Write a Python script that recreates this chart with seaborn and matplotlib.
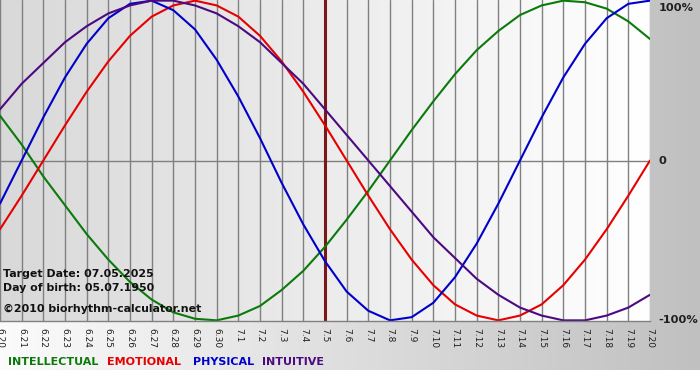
import numpy as np
import pandas as pd
import matplotlib
matplotlib.use("Agg")
import matplotlib.pyplot as plt
import seaborn as sns

# ---------------- data ----------------
days = ["6.20", "6.21", "6.22", "6.23", "6.24", "6.25", "6.26", "6.27", "6.28", "6.29", "6.30",
        "7.1", "7.2", "7.3", "7.4", "7.5", "7.6", "7.7", "7.8", "7.9", "7.10",
        "7.11", "7.12", "7.13", "7.14", "7.15", "7.16", "7.17", "7.18", "7.19", "7.20"]

intellectual = [0.28, 0.10, -0.10, -0.28, -0.46, -0.62, -0.76, -0.87, -0.95, -0.99, -1.00,
                -0.97, -0.91, -0.81, -0.69, -0.54, -0.37, -0.19, 0.00, 0.19, 0.37,
                0.54, 0.69, 0.81, 0.91, 0.97, 1.00, 0.99, 0.95, 0.87, 0.76]
emotional = [-0.43, -0.22, 0.00, 0.22, 0.43, 0.62, 0.78, 0.90, 0.97, 1.00, 0.97,
             0.90, 0.78, 0.62, 0.43, 0.22, 0.00, -0.22, -0.43, -0.62, -0.78,
             -0.90, -0.97, -1.00, -0.97, -0.90, -0.78, -0.62, -0.43, -0.22, 0.00]
physical = [-0.27, 0.00, 0.27, 0.52, 0.73, 0.89, 0.98, 1.00, 0.94, 0.82, 0.63,
            0.40, 0.14, -0.14, -0.40, -0.63, -0.82, -0.94, -1.00, -0.98, -0.89,
            -0.73, -0.52, -0.27, 0.00, 0.27, 0.52, 0.73, 0.89, 0.98, 1.00]
intuitive = [0.32, 0.48, 0.61, 0.74, 0.84, 0.92, 0.97, 1.00, 1.00, 0.97, 0.92,
             0.84, 0.74, 0.61, 0.48, 0.32, 0.16, 0.00, -0.16, -0.32, -0.48,
             -0.61, -0.74, -0.84, -0.92, -0.97, -1.00, -1.00, -0.97, -0.92, -0.84]

series_names = ["INTELLECTUAL", "EMOTIONAL", "PHYSICAL", "INTUITIVE"]
series_colors = ["#0b7a0b", "#e60000", "#0000cc", "#4b0a82"]
target_day = "7.5"
info_lines = ["Target Date: 07.05.2025", "Day of birth: 05.07.1950",
              "\u00a92010 biorhythm-calculator.net"]
right_labels = ["100%", "0", "-100%"]
right_values = [1.0, 0.0, -1.0]

# ---------------- build frame ----------------
rows = []
for name, vals in zip(series_names, [intellectual, emotional, physical, intuitive]):
    for i, (d, v) in enumerate(zip(days, vals)):
        rows.append({"idx": i, "day": d, "value": v, "series": name})
df = pd.DataFrame(rows)

sns.set_style("white")
plt.rcParams["font.family"] = ["DejaVu Sans"]

W, H = 700, 380
fig = plt.figure(figsize=(7, 3.8), dpi=100)

# figure background gradient
bg = fig.add_axes([0, 0, 1, 1], zorder=-10)
g = np.linspace(0.985, 0.753, W)
img = np.ones((H, W, 3))
img[:370, :, :] = g[None, :, None]
bg.imshow(img, aspect="auto", extent=[0, 1, 0, 1], origin="upper")
bg.set_axis_off()

ax_left, ax_right, ax_top, ax_bot = 0, 650, 0, 321
ax = fig.add_axes([ax_left / W, 1 - ax_bot / H, (ax_right - ax_left) / W, (ax_bot - ax_top) / H])
ax.set_xlim(0, len(days) - 1)
ax.set_ylim(-1.004, 1.004)

# plot area gradient
pg = np.linspace(0.85, 1.0, 300)
pimg = np.repeat(pg[None, :, None], 3, axis=2)
ax.imshow(pimg, aspect="auto", extent=[0, len(days) - 1, -1.004, 1.004], zorder=0)

ax.set_xticks(range(len(days)))
ax.set_xticklabels(days, rotation=270, fontsize=6.5, color="#202020")
ax.tick_params(axis="x", length=3.5, width=0.8, color="#808080", pad=1.5)
ax.set_yticks([])
ax.grid(axis="x", color="#808080", linewidth=1.0, zorder=0.5)
ax.set_axisbelow(True)
ax.axhline(0, color="#808080", linewidth=1.0, zorder=0.6)
for s in ["top", "left", "right"]:
    ax.spines[s].set_visible(False)
ax.spines["bottom"].set_color("#808080")
ax.spines["bottom"].set_linewidth(1.0)

ax.axvline(days.index(target_day), color="#7a1818", linewidth=2.2, zorder=1.8)

sns.lineplot(data=df, x="idx", y="value", hue="series", hue_order=series_names,
             palette=series_colors, linewidth=1.5, legend=False, ax=ax, zorder=2)
ax.set_xlabel("")
ax.set_ylabel("")
ax.set_xlim(0, len(days) - 1)
ax.set_ylim(-1.004, 1.004)

# right-side labels
for lab, v in zip(right_labels, right_values):
    off = -5 if v > 0.5 else 0
    ax.annotate(lab, xy=(1, v), xycoords=("axes fraction", "data"),
                xytext=(6, off), textcoords="offset points",
                ha="left", va="center", fontsize=8.2, fontweight="bold", color="#202020")

# info text
baselines = [277, 291, 311.5]
for txt, yb in zip(info_lines, baselines):
    fig.text(3 / W, 1 - yb / H, txt, ha="left", va="baseline", fontsize=7.9,
             fontweight="bold", color="#111111")

# legend words
legend_x = [8, 107, 193, 262]
for name, c, x in zip(series_names, series_colors, legend_x):
    fig.text(x / W, 1 - 365 / H, name, ha="left", va="baseline", fontsize=8.0,
             fontweight="bold", color=c)

fig.savefig("out.png", dpi=100)
